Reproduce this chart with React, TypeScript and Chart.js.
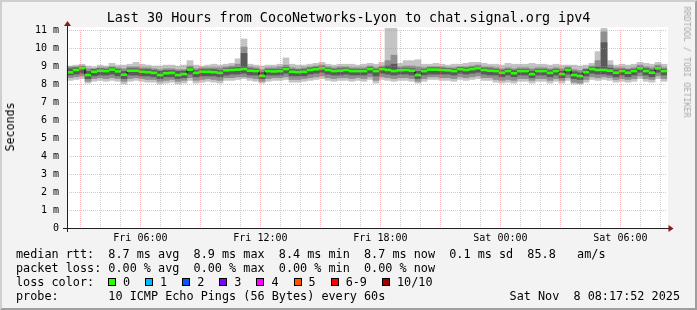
import React, { useEffect, useRef } from 'react';
import { Chart, registerables } from 'chart.js';

Chart.register(...registerables);

// 100 consolidation buckets of 18 minutes, Fri ~02:18 -> Sat ~08:18 (values in ms)
const median = [
  8.65, 8.78, 8.88, 8.5, 8.68, 8.74, 8.72, 8.8, 8.7, 8.52,
  8.74, 8.74, 8.68, 8.66, 8.62, 8.5, 8.6, 8.62, 8.5, 8.55,
  8.8, 8.62, 8.68, 8.68, 8.66, 8.62, 8.76, 8.78, 8.8, 8.83,
  8.74, 8.72, 8.45, 8.72, 8.7, 8.72, 8.83, 8.68, 8.66, 8.68,
  8.78, 8.82, 8.87, 8.78, 8.72, 8.74, 8.78, 8.72, 8.72, 8.72,
  8.83, 8.72, 8.83, 8.78, 8.72, 8.76, 8.78, 8.74, 8.5, 8.72,
  8.8, 8.8, 8.78, 8.76, 8.72, 8.83, 8.78, 8.83, 8.88, 8.78,
  8.74, 8.72, 8.63, 8.72, 8.6, 8.72, 8.72, 8.55, 8.72, 8.72,
  8.62, 8.72, 8.55, 8.78, 8.5, 8.44, 8.66, 8.83, 8.78, 8.78,
  8.74, 8.63, 8.72, 8.63, 8.72, 8.87, 8.72, 8.63, 8.87, 8.72,
];
const outerLo = [
  8.2, 8.25, 8.3, 8.05, 8.15, 8.2, 8.15, 8.2, 8.15, 8.0,
  8.15, 8.2, 8.15, 8.1, 8.1, 8.0, 8.05, 8.1, 8.0, 8.05,
  8.2, 8.05, 8.1, 8.15, 8.1, 8.05, 8.2, 8.2, 8.25, 8.3,
  8.2, 8.15, 8.05, 8.15, 8.2, 8.2, 8.25, 8.1, 8.1, 8.15,
  8.2, 8.25, 8.3, 8.2, 8.15, 8.2, 8.2, 8.15, 8.2, 8.15,
  8.25, 8.05, 8.25, 8.2, 8.15, 8.2, 8.2, 8.15, 8.05, 8.15,
  8.25, 8.25, 8.2, 8.2, 8.15, 8.25, 8.2, 8.25, 8.3, 8.2,
  8.2, 8.1, 8.05, 8.1, 8.05, 8.15, 8.15, 8.05, 8.15, 8.15,
  8.05, 8.15, 8.05, 8.2, 8.0, 8.0, 8.1, 8.25, 8.2, 8.25,
  8.2, 8.1, 8.15, 8.1, 8.15, 8.3, 8.15, 8.1, 8.3, 8.15,
];
const outerHi = [
  9.0, 9.05, 9.1, 9.0, 8.95, 9.05, 9.0, 9.15, 9.05, 9.05,
  9.1, 9.2, 9.1, 9.05, 9.0, 9.0, 9.05, 9.05, 9.0, 9.05,
  9.3, 9.05, 9.0, 9.05, 9.1, 9.05, 9.1, 9.15, 9.4, 10.5,
  9.1, 9.05, 9.0, 9.05, 9.05, 9.1, 9.45, 9.1, 9.05, 9.05,
  9.1, 9.15, 9.2, 9.1, 9.05, 9.1, 9.1, 9.1, 9.05, 9.1,
  9.15, 9.1, 9.2, 11.1, 11.1, 9.15, 9.3, 9.3, 9.35, 9.1,
  9.1, 9.15, 9.1, 9.05, 9.1, 9.1, 9.15, 9.2, 9.2, 9.15,
  9.1, 9.1, 9.05, 9.15, 9.1, 9.1, 9.1, 9.15, 9.1, 9.1,
  9.05, 9.1, 9.05, 9.05, 9.05, 9.0, 9.05, 9.15, 9.8, 11.1,
  9.3, 9.05, 9.1, 9.05, 9.1, 9.2, 9.15, 9.1, 9.2, 9.1,
];
const midLo = [
  8.35, 8.4, 8.45, 8.15, 8.3, 8.35, 8.3, 8.35, 8.3, 8.15,
  8.3, 8.35, 8.3, 8.25, 8.25, 8.15, 8.2, 8.25, 8.15, 8.2,
  8.35, 8.2, 8.25, 8.3, 8.25, 8.2, 8.35, 8.35, 8.4, 8.4,
  8.35, 8.3, 8.15, 8.3, 8.35, 8.35, 8.4, 8.25, 8.25, 8.3,
  8.35, 8.4, 8.45, 8.35, 8.3, 8.35, 8.35, 8.3, 8.35, 8.3,
  8.4, 8.2, 8.4, 8.35, 8.3, 8.35, 8.35, 8.3, 8.15, 8.3,
  8.4, 8.4, 8.35, 8.35, 8.3, 8.4, 8.35, 8.4, 8.45, 8.35,
  8.35, 8.25, 8.2, 8.25, 8.2, 8.3, 8.3, 8.2, 8.3, 8.3,
  8.2, 8.3, 8.2, 8.35, 8.1, 8.05, 8.25, 8.4, 8.35, 8.4,
  8.35, 8.25, 8.3, 8.25, 8.3, 8.45, 8.3, 8.25, 8.45, 8.3,
];
const midHi = [
  8.95, 8.95, 9.0, 8.85, 8.85, 8.9, 8.9, 8.95, 8.9, 8.85,
  8.95, 8.95, 8.9, 8.9, 8.85, 8.8, 8.85, 8.85, 8.8, 8.8,
  9.0, 8.85, 8.9, 8.9, 8.9, 8.9, 8.95, 9.0, 9.1, 10.05,
  8.95, 8.9, 8.8, 8.9, 8.9, 8.95, 9.05, 8.9, 8.85, 8.9,
  8.95, 9.0, 9.05, 8.95, 8.9, 8.95, 8.95, 8.9, 8.9, 8.9,
  9.0, 8.9, 9.0, 9.3, 9.6, 8.95, 9.0, 9.0, 8.95, 8.9,
  8.95, 8.95, 8.95, 8.9, 8.9, 8.95, 8.95, 9.0, 9.05, 8.95,
  8.95, 8.9, 8.85, 8.9, 8.85, 8.9, 8.9, 8.85, 8.9, 8.9,
  8.85, 8.9, 8.85, 8.95, 8.8, 8.75, 8.85, 9.0, 9.3, 10.9,
  9.05, 8.9, 8.9, 8.85, 8.9, 9.05, 8.95, 8.9, 9.05, 8.9,
];
const innerLo = [
  8.5, 8.55, 8.6, 8.3, 8.45, 8.5, 8.5, 8.55, 8.45, 8.3,
  8.5, 8.5, 8.45, 8.45, 8.4, 8.3, 8.4, 8.4, 8.3, 8.35,
  8.55, 8.4, 8.45, 8.45, 8.45, 8.4, 8.5, 8.55, 8.55, 8.6,
  8.5, 8.5, 8.3, 8.5, 8.5, 8.5, 8.6, 8.45, 8.45, 8.45,
  8.55, 8.6, 8.65, 8.55, 8.5, 8.5, 8.55, 8.5, 8.5, 8.5,
  8.6, 8.45, 8.6, 8.55, 8.5, 8.55, 8.55, 8.5, 8.3, 8.5,
  8.55, 8.55, 8.55, 8.55, 8.5, 8.6, 8.55, 8.6, 8.65, 8.55,
  8.5, 8.5, 8.4, 8.5, 8.4, 8.5, 8.5, 8.35, 8.5, 8.5,
  8.4, 8.5, 8.35, 8.55, 8.3, 8.25, 8.45, 8.6, 8.55, 8.55,
  8.5, 8.4, 8.5, 8.4, 8.5, 8.65, 8.5, 8.4, 8.65, 8.5,
];
const innerHi = [
  8.85, 8.9, 8.95, 8.7, 8.8, 8.85, 8.82, 8.9, 8.8, 8.7,
  8.85, 8.85, 8.8, 8.8, 8.75, 8.7, 8.75, 8.75, 8.7, 8.72,
  8.9, 8.75, 8.8, 8.8, 8.8, 8.75, 8.85, 8.9, 8.92, 9.7,
  8.85, 8.82, 8.65, 8.82, 8.8, 8.82, 8.92, 8.8, 8.78, 8.8,
  8.88, 8.92, 8.95, 8.88, 8.82, 8.85, 8.88, 8.82, 8.82, 8.82,
  8.92, 8.82, 8.92, 9.0, 9.1, 8.85, 8.88, 8.85, 8.7, 8.82,
  8.9, 8.9, 8.88, 8.85, 8.82, 8.92, 8.88, 8.92, 8.95, 8.88,
  8.85, 8.82, 8.75, 8.82, 8.75, 8.82, 8.82, 8.72, 8.82, 8.82,
  8.75, 8.82, 8.72, 8.88, 8.68, 8.62, 8.8, 8.92, 8.95, 10.3,
  8.88, 8.78, 8.82, 8.78, 8.82, 8.95, 8.85, 8.78, 8.95, 8.82,
];

const xTickLabels = ['Fri 06:00', 'Fri 12:00', 'Fri 18:00', 'Sat 00:00', 'Sat 06:00'];
const firstHourOffset = 0.67; // hours from graph start to the first full hour (Fri 03:00)
const spanHours = 30;
const yMax = 11;

const titleText = 'Last 30 Hours from CocoNetworks-Lyon to chat.signal.org ipv4';
const legendRtt = 'median rtt:  8.7 ms avg  8.9 ms max  8.4 ms min  8.7 ms now  0.1 ms sd  85.8   am/s';
const legendLoss = 'packet loss: 0.00 % avg  0.00 % max  0.00 % min  0.00 % now';
const legendProbe = 'probe:       10 ICMP Echo Pings (56 Bytes) every 60s';
const legendDate = 'Sat Nov  8 08:17:52 2025';
const lossLabels = ['0', '1', '2', '3', '4', '5', '6-9', '10/10'];
const lossColors = ['#26ff00', '#00b8ff', '#0059ff', '#7e00ff', '#ff00ff', '#ff5500', '#ff0000', '#a10000'];

const MONO = '"DejaVu Sans Mono", monospace';
const MAJOR = 'rgba(255,110,110,0.5)';
const MINOR = 'rgba(160,160,160,0.5)';

const frame = {
  id: 'rrdFrame',
  beforeDraw(chart: any) {
    const { ctx, width, height, chartArea } = chart;
    ctx.save();
    ctx.fillStyle = '#f3f3f3';
    ctx.fillRect(0, 0, width, height);
    ctx.fillStyle = '#cfcfcf';
    ctx.beginPath();
    ctx.moveTo(0, 0); ctx.lineTo(width, 0); ctx.lineTo(width - 2, 2); ctx.lineTo(2, 2);
    ctx.lineTo(2, height - 2); ctx.lineTo(0, height); ctx.closePath(); ctx.fill();
    ctx.fillStyle = '#9e9e9e';
    ctx.beginPath();
    ctx.moveTo(width, 0); ctx.lineTo(width, height); ctx.lineTo(0, height); ctx.lineTo(2, height - 2);
    ctx.lineTo(width - 2, height - 2); ctx.lineTo(width - 2, 2); ctx.closePath(); ctx.fill();
    ctx.fillStyle = '#ffffff';
    ctx.fillRect(chartArea.left, chartArea.top - 3, chartArea.right - chartArea.left + 1, chartArea.bottom - chartArea.top + 3);
    ctx.restore();
  },
  afterDraw(chart: any) {
    const { ctx, chartArea } = chart;
    const L = chartArea.left, B = chartArea.bottom, R = chartArea.right, T = chartArea.top;
    ctx.save();
    ctx.strokeStyle = '#202020';
    ctx.lineWidth = 1;
    ctx.beginPath();
    ctx.moveTo(L - 4, B + 0.5); ctx.lineTo(R + 4, B + 0.5);
    ctx.moveTo(L + 0.5, B + 4); ctx.lineTo(L + 0.5, T - 6);
    ctx.stroke();
    ctx.fillStyle = '#8b1a1a';
    ctx.beginPath();
    ctx.moveTo(R + 6.5, B + 0.5); ctx.lineTo(R + 1.5, B - 3); ctx.lineTo(R + 1.5, B + 4); ctx.closePath(); ctx.fill();
    ctx.beginPath();
    ctx.moveTo(L + 0.5, T - 9); ctx.lineTo(L - 3, T - 4); ctx.lineTo(L + 4, T - 4); ctx.closePath(); ctx.fill();
    ctx.restore();
  },
};

export default function App() {
  const ref = useRef<HTMLCanvasElement | null>(null);

  useEffect(() => {
    if (!ref.current) return;
    const labels = median.map((_, i) => String(i));
    const pair = (lo: number[], hi: number[]) => lo.map((v, i) => [v, hi[i]]);
    const barCommon = {
      type: 'bar' as const,
      xAxisID: 'x',
      yAxisID: 'y',
      grouped: false,
      categoryPercentage: 1,
      barPercentage: 1,
      borderWidth: 0,
      borderSkipped: false,
    };
    const chart = new Chart(ref.current, {
      type: 'bar',
      data: {
        labels,
        datasets: [
          { ...barCommon, label: 'median', data: median.map((m) => [m - 0.055, m + 0.055]), backgroundColor: '#26ff00', order: 0 },
          { type: 'line', label: 'median step', data: median, xAxisID: 'x', yAxisID: 'y', stepped: 'middle', borderColor: '#000000', borderWidth: 1, pointRadius: 0, order: 1 } as any,
          { ...barCommon, label: 'inner', data: pair(innerLo, innerHi), backgroundColor: '#5a5a5a', order: 2 },
          { ...barCommon, label: 'mid', data: pair(midLo, midHi), backgroundColor: '#8f8f8f', order: 3 },
          { ...barCommon, label: 'outer', data: pair(outerLo, outerHi), backgroundColor: '#c4c4c4', order: 4, clip: false } as any,
        ] as any,
      },
      options: {
        animation: false,
        responsive: false,
        devicePixelRatio: 1,
        layout: { padding: { left: 0, top: 30, right: 30, bottom: 0 } },
        plugins: { legend: { display: false }, tooltip: { enabled: false }, title: { display: false } },
        scales: {
          x: { type: 'category', display: false, grid: { display: false } },
          xt: {
            type: 'linear',
            position: 'bottom',
            min: 0,
            max: spanHours,
            offset: false,
            afterBuildTicks: (s: any) => {
              s.ticks = Array.from({ length: spanHours }, (_, k) => ({ value: firstHourOffset + k }));
            },
            afterFit: (s: any) => { s.height = 82; },
            grid: {
              z: 1,
              offset: false,
              drawTicks: false,
              lineWidth: 1,
              color: (c: any) => (c.index % 3 === 0 ? MAJOR : MINOR),
            },
            border: { display: false, dash: [1, 1] },
            ticks: {
              autoSkip: false,
              maxRotation: 0,
              minRotation: 0,
              padding: 4,
              color: '#000',
              font: { family: MONO, size: 10 },
              callback: (_v: any, i: number) => (i % 6 === 3 ? xTickLabels[(i - 3) / 6] : ''),
            },
          },
          y: {
            type: 'linear',
            min: 0,
            max: yMax,
            afterFit: (s: any) => { s.width = 67; },
            grid: {
              z: 1,
              drawTicks: false,
              color: (c: any) => (Number.isInteger(c.tick.value) ? MAJOR : MINOR),
            },
            border: { display: false, dash: [1, 1] },
            ticks: {
              stepSize: 0.5,
              padding: 8,
              color: '#000',
              font: { family: MONO, size: 10 },
              callback: (v: any) => (Number.isInteger(v) ? (v === 0 ? '0' : `${v} m`) : ''),
            },
          },
        },
      } as any,
      plugins: [frame],
    });
    return () => chart.destroy();
  }, []);

  const txt: React.CSSProperties = { position: 'absolute', fontFamily: MONO, color: '#000', whiteSpace: 'pre', lineHeight: '14px' };

  return (
    <div style={{ position: 'fixed', left: 0, top: 0, width: 697, height: 310, overflow: 'hidden' }}>
      <canvas ref={ref} width={697} height={310} style={{ position: 'absolute', left: 0, top: 0, width: 697, height: 310 }} />
      <div style={{ ...txt, left: 0, width: 697, top: 10, textAlign: 'center', fontSize: 13.4, lineHeight: '16px' }}>{titleText}</div>
      <div style={{ ...txt, left: 10, top: 127, fontSize: 11.6, transform: 'translate(-50%, -50%) rotate(-90deg)' }}>Seconds</div>
      <div style={{ ...txt, left: 687, top: 62, fontSize: 8.4, color: '#a8a8a8', transform: 'translate(-50%, -50%) rotate(90deg)' }}>RRDTOOL / TOBI OETIKER</div>
      <div style={{ ...txt, left: 16, top: 247, fontSize: 11.8 }}>{legendRtt}</div>
      <div style={{ ...txt, left: 16, top: 261, fontSize: 11.8 }}>{legendLoss}</div>
      <div style={{ ...txt, left: 16, top: 275, fontSize: 11.8 }}>loss color:</div>
      <div style={{ position: 'absolute', left: 108, top: 275, height: 14, display: 'flex', alignItems: 'center', fontFamily: MONO, fontSize: 11.8 }}>
        {lossLabels.map((l, i) => (
          <div key={l} style={{ display: 'flex', alignItems: 'center', marginRight: 15 }}>
            <span style={{ display: 'inline-block', width: 8, height: 8, boxSizing: 'border-box', border: '1px solid #000', background: lossColors[i], marginRight: 7 }} />
            <span style={{ lineHeight: '14px', whiteSpace: 'pre' }}>{l}</span>
          </div>
        ))}
      </div>
      <div style={{ ...txt, left: 16, top: 289, fontSize: 11.8 }}>{legendProbe}</div>
      <div style={{ ...txt, right: 17, top: 289, fontSize: 11.8 }}>{legendDate}</div>
    </div>
  );
}
